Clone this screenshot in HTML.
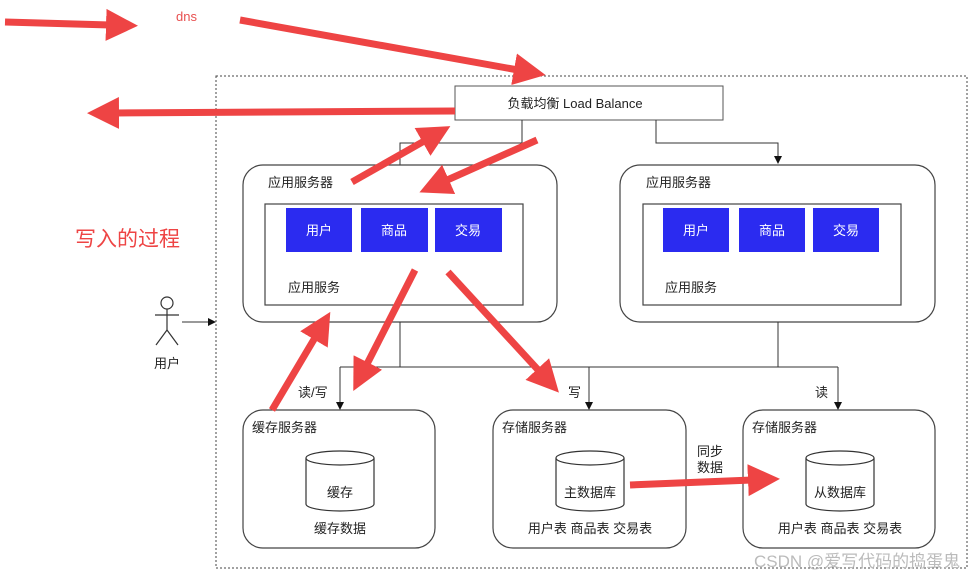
<!DOCTYPE html>
<html><head><meta charset="utf-8"><style>
body{margin:0;background:#fff}
svg text{font-family:"Liberation Sans","Noto Sans CJK SC",sans-serif;}
</style></head><body>
<svg width="980" height="578" viewBox="0 0 980 578" xmlns="http://www.w3.org/2000/svg">
<defs>
<marker id="bk" markerWidth="8" markerHeight="8" refX="7" refY="4" orient="auto" markerUnits="userSpaceOnUse"><path d="M0,0 L8,4 L0,8 Z" fill="#111"/></marker>
<marker id="rd" markerWidth="36" markerHeight="36" refX="4" refY="18" orient="auto" markerUnits="userSpaceOnUse"><path d="M0,2 L32,18 L0,34 Z" fill="#ee4444"/></marker>
</defs>
<rect x="216" y="76" width="751" height="492" fill="none" stroke="#444" stroke-dasharray="2,2"/>
<rect x="455" y="86" width="268" height="34" fill="#fff" stroke="#555"/>
<text x="575" y="108" font-size="13" text-anchor="middle" fill="#222">负载均衡 Load Balance</text>
<polyline points="522,120 522,143 400,143 400,165" fill="none" stroke="#333"/>
<polyline points="656,120 656,143 778,143 778,163" fill="none" stroke="#333" marker-end="url(#bk)"/>
<g fill="#fff" stroke="#444" stroke-width="1.2">
<rect x="243" y="165" width="314" height="157" rx="20"/>
<rect x="620" y="165" width="315" height="157" rx="20"/>
<rect x="265" y="204" width="258" height="101"/>
<rect x="643" y="204" width="258" height="101"/>
</g>
<g fill="#2b2bf0">
<rect x="286" y="208" width="66" height="44"/><rect x="361" y="208" width="67" height="44"/><rect x="435" y="208" width="67" height="44"/>
<rect x="663" y="208" width="66" height="44"/><rect x="739" y="208" width="66" height="44"/><rect x="813" y="208" width="66" height="44"/>
</g>
<g font-size="13" fill="#fff" text-anchor="middle">
<text x="319" y="235">用户</text><text x="394" y="235">商品</text><text x="468" y="235">交易</text>
<text x="696" y="235">用户</text><text x="772" y="235">商品</text><text x="846" y="235">交易</text>
</g>
<g font-size="13" fill="#222">
<text x="268" y="187">应用服务器</text><text x="646" y="187">应用服务器</text>
<text x="288" y="292">应用服务</text><text x="665" y="292">应用服务</text>
</g>
<g fill="none" stroke="#333">
<line x1="400" y1="322" x2="400" y2="367"/><line x1="778" y1="322" x2="778" y2="367"/>
<line x1="340" y1="367" x2="838" y2="367"/>
<line x1="340" y1="367" x2="340" y2="409" marker-end="url(#bk)"/>
<line x1="589" y1="367" x2="589" y2="409" marker-end="url(#bk)"/>
<line x1="838" y1="367" x2="838" y2="409" marker-end="url(#bk)"/>
<line x1="182" y1="322" x2="215" y2="322" marker-end="url(#bk)"/>
</g>
<g font-size="13" fill="#222">
<text x="298" y="397">读/写</text><text x="568" y="397">写</text><text x="815" y="397">读</text>
<text x="697" y="456">同步</text><text x="697" y="472">数据</text>
</g>
<g fill="#fff" stroke="#444" stroke-width="1.2">
<rect x="243" y="410" width="192" height="138" rx="20"/>
<rect x="493" y="410" width="193" height="138" rx="20"/>
<rect x="743" y="410" width="192" height="138" rx="20"/>
</g>
<g font-size="13" fill="#222">
<text x="252" y="432">缓存服务器</text><text x="502" y="432">存储服务器</text><text x="752" y="432">存储服务器</text>
</g>
<g fill="#fff" stroke="#333" stroke-width="1.2">
<path d="M306,458 v46 a34,7 0 0 0 68,0 v-46"/><ellipse cx="340" cy="458" rx="34" ry="7"/>
<path d="M556,458 v46 a34,7 0 0 0 68,0 v-46"/><ellipse cx="590" cy="458" rx="34" ry="7"/>
<path d="M806,458 v46 a34,7 0 0 0 68,0 v-46"/><ellipse cx="840" cy="458" rx="34" ry="7"/>
</g>
<g font-size="13" fill="#222" text-anchor="middle">
<text x="340" y="497">缓存</text><text x="590" y="497">主数据库</text><text x="840" y="497">从数据库</text>
<text x="340" y="533">缓存数据</text><text x="590" y="533">用户表 商品表 交易表</text><text x="840" y="533">用户表 商品表 交易表</text>
</g>
<g fill="none" stroke="#333" stroke-width="1.2">
<circle cx="167" cy="303" r="6"/><line x1="167" y1="309" x2="167" y2="330"/>
<line x1="155" y1="315" x2="179" y2="315"/><line x1="167" y1="330" x2="156" y2="345"/><line x1="167" y1="330" x2="178" y2="345"/>
</g>
<text x="167" y="368" font-size="13" fill="#222" text-anchor="middle">用户</text>
<g stroke="#ee4444" stroke-width="7" fill="none" marker-end="url(#rd)">
<line x1="5" y1="22" x2="110" y2="25"/>
<line x1="240" y1="20" x2="518" y2="70"/>
<line x1="455" y1="111" x2="115" y2="113"/>
<line x1="352" y1="182" x2="426" y2="140"/>
<line x1="537" y1="140" x2="445" y2="181"/>
<line x1="415" y1="270" x2="366" y2="366"/>
<line x1="448" y1="272" x2="540" y2="372"/>
<line x1="272" y1="410" x2="316" y2="336"/>
<line x1="630" y1="485" x2="752" y2="480"/>
</g>
<text x="176" y="21" font-size="13" fill="#e85050">dns</text>
<text x="75" y="246" font-size="21" fill="#ee4444">写入的过程</text>
<text x="754" y="567" font-size="17" fill="#bbb">CSDN @爱写代码的捣蛋鬼</text>
</svg>
</body></html>
